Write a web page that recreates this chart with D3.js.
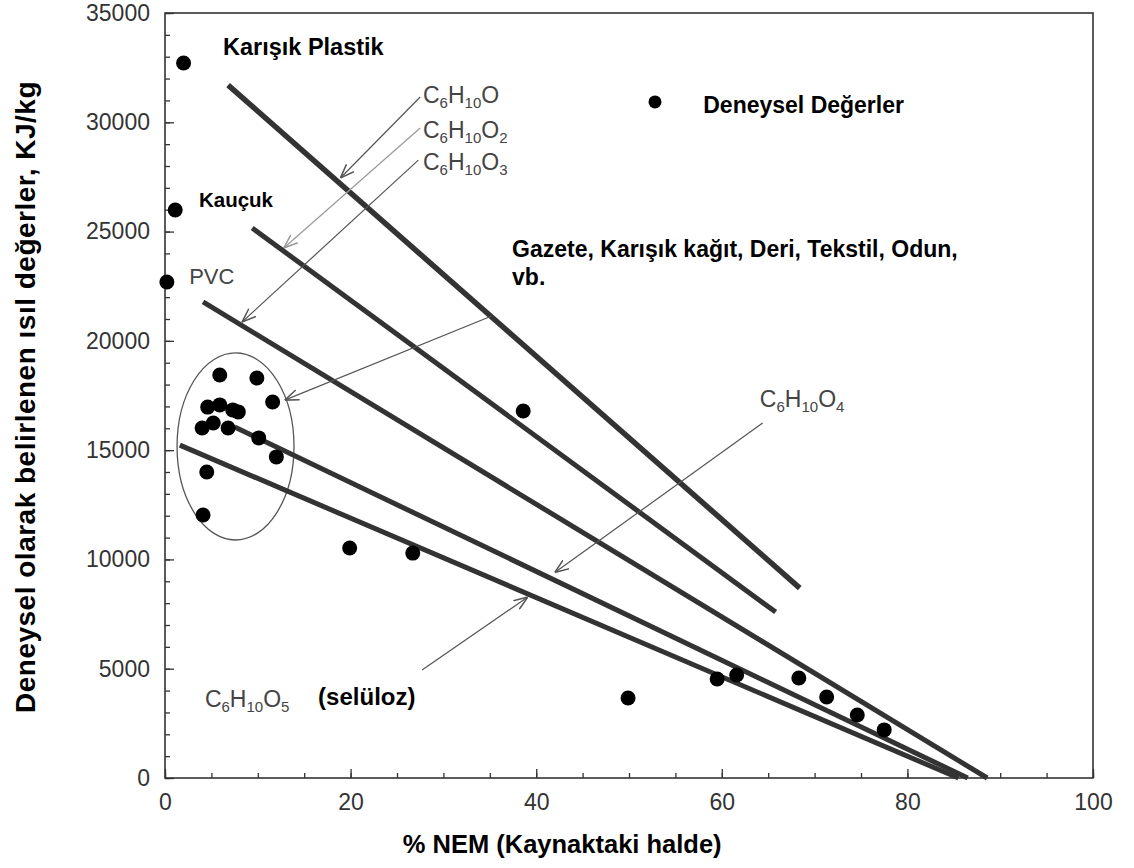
<!DOCTYPE html>
<html>
<head>
<meta charset="utf-8">
<script src="https://cdn.jsdelivr.net/npm/d3@7"></script>
<style>
  body { margin: 0; background: #fff; }
  svg { display: block; font-family: "Liberation Sans", Arial, sans-serif; }
</style>
</head>
<body>
<div id="chart"></div>
<script>
// Experimental points: % moisture vs heating value (kJ/kg)
const moisture  = [2.0, 1.1, 0.2, 5.9, 9.9, 11.6, 4.6, 5.9, 7.3, 7.9, 4.0, 5.2, 6.8, 10.1, 12.0, 4.5, 4.1, 19.9, 26.7, 38.6, 49.9, 59.5, 61.6, 68.3, 71.3, 74.6, 77.5];
const heatValue = [32710, 25990, 22690, 18440, 18300, 17200, 16970, 17070, 16840, 16750, 16010, 16240, 16010, 15560, 14690, 14000, 12030, 10520, 10290, 16790, 3660, 4530, 4710, 4575, 3705, 2880, 2200];

// Theoretical lines, one per formula
const formulas = ["C6H10O", "C6H10O2", "C6H10O3", "C6H10O4", "C6H10O5"];
const lineX0 = [6.8, 9.4, 4.1, 7.5, 1.6];
const lineY0 = [31700, 25160, 21780, 16060, 15230];
const lineX1 = [68.4, 65.8, 88.6, 86.5, 85.5];
const lineY1 = [8690, 7590, 0, 0, 0];

const xMajor = [0, 20, 40, 60, 80, 100];
const yMajor = [0, 5000, 10000, 15000, 20000, 25000, 30000, 35000];

const margin = { top: 13, right: 41, bottom: 90, left: 165 };
const width = 1134 - margin.left - margin.right;
const height = 868 - margin.top - margin.bottom;

const svg = d3.select("#chart")
  .append("svg")
  .attr("width", 1134)
  .attr("height", 868);

const chart = svg.append("g")
  .attr("transform", `translate(${margin.left},${margin.top})`);

const x = d3.scaleLinear().domain([0, 100]).range([0, width]);
const y = d3.scaleLinear().domain([0, 35000]).range([height, 0]);

// arrowhead (open chevron)
svg.append("defs").selectAll("marker")
  .data([["arr", "#555"], ["arrLight", "#999"]])
  .enter().append("marker")
  .attr("id", d => d[0])
  .attr("viewBox", "0 -5 12 10")
  .attr("refX", 12).attr("refY", 0)
  .attr("markerUnits", "userSpaceOnUse")
  .attr("markerWidth", 14).attr("markerHeight", 12)
  .attr("orient", "auto")
  .append("path")
  .attr("d", "M0,-4.5L12,0L0,4.5")
  .attr("fill", "none")
  .attr("stroke", d => d[1])
  .attr("stroke-width", 1.3);

// axes: minor + major ticks pointing inward
const xMinor = d3.range(0, 101, 5);
const yMinor = d3.range(0, 35001, 1000);

chart.append("g")
  .attr("transform", `translate(0,${height})`)
  .call(d3.axisBottom(x).tickValues(xMinor).tickSize(-5).tickFormat(""))
  .call(g => g.select(".domain").remove());

chart.append("g")
  .call(d3.axisLeft(y).tickValues(yMinor).tickSize(-5).tickFormat(""))
  .call(g => g.select(".domain").remove());

const xAxis = chart.append("g")
  .attr("transform", `translate(0,${height})`)
  .call(d3.axisBottom(x).tickValues(xMajor).tickSize(-9).tickPadding(16));
xAxis.select(".domain").remove();

const yAxis = chart.append("g")
  .call(d3.axisLeft(y).tickValues(yMajor).tickSize(-9).tickPadding(15).tickFormat(d3.format("d")));
yAxis.select(".domain").remove();

chart.selectAll(".tick line").attr("stroke", "#333").attr("stroke-width", 1.3);
chart.selectAll(".tick text")
  .attr("font-family", "'Liberation Sans', Arial, sans-serif")
  .attr("font-size", 23)
  .attr("fill", "#333");

// frame
chart.append("rect")
  .attr("width", width).attr("height", height)
  .attr("fill", "none")
  .attr("stroke", "#333")
  .attr("stroke-width", 1.6);

// ellipse around the paper/wood/textile cluster
chart.append("ellipse")
  .attr("cx", x(7.6)).attr("cy", y(15170))
  .attr("rx", x(6.3) - x(0)).attr("ry", y(0) - y(4280))
  .attr("fill", "none")
  .attr("stroke", "#555")
  .attr("stroke-width", 1.3);

// theoretical lines
chart.selectAll(".theory")
  .data(formulas)
  .enter().append("line")
  .attr("class", "theory")
  .attr("x1", (d, i) => x(lineX0[i]))
  .attr("y1", (d, i) => y(lineY0[i]))
  .attr("x2", (d, i) => x(lineX1[i]))
  .attr("y2", (d, i) => y(lineY1[i]))
  .attr("stroke", "#333")
  .attr("stroke-width", (d, i) => i === 0 ? 5.5 : 5);

// dots
chart.selectAll(".dot")
  .data(moisture)
  .enter().append("circle")
  .attr("class", "dot")
  .attr("cx", d => x(d))
  .attr("cy", (d, i) => y(heatValue[i]))
  .attr("r", 7.5)
  .attr("fill", "#000");

// leader arrows: [x0, y0, x1, y1, light]
const leaders = [
  [27.5, 31155, 18.9, 27450, false],
  [27.5, 29740, 12.8, 24250, true],
  [27.3, 28270, 8.3, 20860, false],
  [35.2, 21140, 12.9, 17290, false],
  [64.4, 16240, 42.0, 9400, false],
  [27.7, 4940, 39.1, 8280, false]
];
chart.selectAll(".leader")
  .data(leaders)
  .enter().append("line")
  .attr("class", "leader")
  .attr("x1", d => x(d[0])).attr("y1", d => y(d[1]))
  .attr("x2", d => x(d[2])).attr("y2", d => y(d[3]))
  .attr("stroke", d => d[4] ? "#999" : "#555")
  .attr("stroke-width", 1.2)
  .attr("marker-end", d => d[4] ? "url(#arrLight)" : "url(#arr)");

// formula labels with subscripts
function formula(xv, yv, txt) {
  const t = chart.append("text")
    .attr("x", x(xv)).attr("y", y(yv))
    .attr("font-size", 23)
    .attr("fill", "#444");
  let sub = false;
  txt.match(/\d+|\D+/g).forEach(part => {
    const isNum = /\d/.test(part);
    t.append("tspan")
      .attr("font-size", isNum ? 15 : 23)
      .attr("dy", isNum === sub ? 0 : (isNum ? 5 : -5))
      .text(part);
    sub = isNum;
  });
}
formula(27.8, 30880, formulas[0]);
formula(27.8, 29280, formulas[1]);
formula(27.8, 27815, formulas[2]);
formula(64.1, 16970, formulas[3]);
formula(4.3, 3250, formulas[4]);

// other labels
const plain = (xv, yv, txt, bold) => chart.append("text")
  .attr("x", x(xv)).attr("y", y(yv))
  .attr("font-size", bold ? 23 : 22)
  .attr("font-weight", bold ? "bold" : "normal")
  .attr("fill", bold ? "#000" : "#444")
  .text(txt);

plain(6.25, 33080, "Karışık Plastik", true).attr("font-size", 23.5);
plain(3.66, 26120, "Kauçuk", true).attr("font-size", 20.5);
plain(2.6, 22600, "PVC", false);
plain(58.0, 30420, "Deneysel Değerler", true);
plain(37.4, 23835, "Gazete, Karışık kağıt, Deri, Tekstil, Odun,", true);
plain(37.4, 22555, "vb.", true);
plain(16.5, 3340, "(selüloz)", true).attr("font-size", 24);

// legend dot
chart.append("circle")
  .attr("cx", x(52.8)).attr("cy", y(30930))
  .attr("r", 6.5)
  .attr("fill", "#000");

// axis titles
svg.append("text")
  .attr("x", margin.left + x(42.8))
  .attr("y", 853)
  .attr("text-anchor", "middle")
  .attr("font-size", 25.5)
  .attr("font-weight", "bold")
  .text("% NEM (Kaynaktaki halde)");

svg.append("text")
  .attr("transform", "translate(35,397) rotate(-90)")
  .attr("text-anchor", "middle")
  .attr("font-size", 28)
  .attr("letter-spacing", 0.5)
  .attr("font-weight", "bold")
  .text("Deneysel olarak belirlenen ısıl değerler, KJ/kg");
</script>
</body>
</html>
